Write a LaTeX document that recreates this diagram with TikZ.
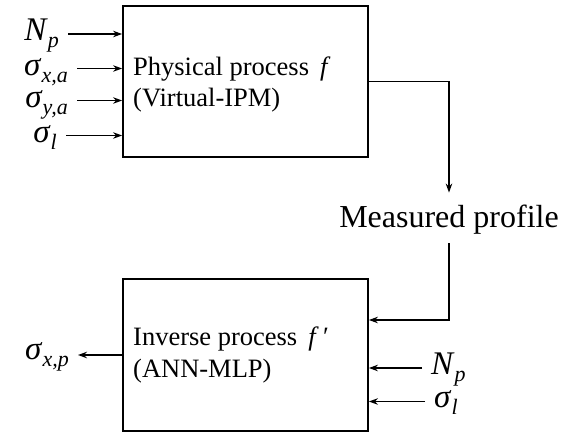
\documentclass[tikz,border=0pt]{standalone}
\usepackage{fontspec}
\setmainfont{Liberation Serif}
\usetikzlibrary{arrows.meta}
\newcommand\sbs[1]{\raisebox{-0.22em}{\fontsize{22}{24}\selectfont\textit{#1}}}
\begin{document}
\begin{tikzpicture}[x=1pt,y=-1pt,
  box/.style={draw,line width=1.8pt,minimum width=245pt,inner sep=0pt},
  arr/.style={line width=1.3pt,-{Stealth[length=9pt,width=6.5pt]}},
  txt/.style={font=\fontsize{26.5}{31}\selectfont,inner sep=0pt,anchor=base west},
  lab/.style={font=\fontsize{33}{36}\selectfont,inner ysep=0pt,inner xsep=9pt},
  big/.style={font=\fontsize{32}{36}\selectfont,inner sep=0pt,anchor=base}]
\useasboundingbox (0,0) rectangle (566,434);
% boxes
\node[box,minimum height=151pt] (b1) at (245.5,81.5) {};
\node[box,minimum height=152pt] (b2) at (245.5,355) {};
% box texts
\node[txt] (t1a) at (133,75) {Physical process \,\textit{f}};
\node[txt] (t1b) at (133,106.5) {(Virtual-IPM)};
\node[txt] (t2a) at (133,345) {Inverse process \,\textit{f}\,′};
\node[txt] (t2b) at (133,377) {(ANN-MLP)};
% inputs to box 1
\node[lab,anchor=base east] (l1) at (68,40.5) {\textit{N}\sbs{p}};
\node[lab,anchor=base east] (l2) at (77,75) {\textit{σ}\sbs{x,a}};
\node[lab,anchor=base east] (l3) at (77,107) {\textit{σ}\sbs{y,a}};
\node[lab,anchor=base east] (l4) at (66,142) {\textit{σ}\sbs{l}};
\foreach \n in {l1,l2,l3,l4}
  \draw[arr] ([yshift=6.5pt]\n.base east) -- ([yshift=6.5pt]\n.base east -| b1.west);
% measured profile
\node[big] (mp) at (449,227.3) {Measured profile};
\draw[arr] (b1.east) -| ([yshift=12pt]mp.north);
\coordinate (c1) at (449,320);
\draw[arr] ([yshift=-9pt]mp.south) -- (c1) -- (c1 -| b2.east);
% inputs to box 2
\node[lab,anchor=base west] (r1) at (422,374) {\textit{N}\sbs{p}};
\node[lab,anchor=base west] (r2) at (425,407.5) {\textit{σ}\sbs{l}};
\foreach \n in {r1,r2}
  \draw[arr] ([yshift=6pt]\n.base west) -- ([yshift=6pt]\n.base west -| b2.east);
% output
\node[lab,anchor=base east] (o1) at (78,359.5) {\textit{σ}\sbs{x,p}};
\draw[arr] (b2.west) -- (b2.west -| o1.east);
\end{tikzpicture}
\end{document}
